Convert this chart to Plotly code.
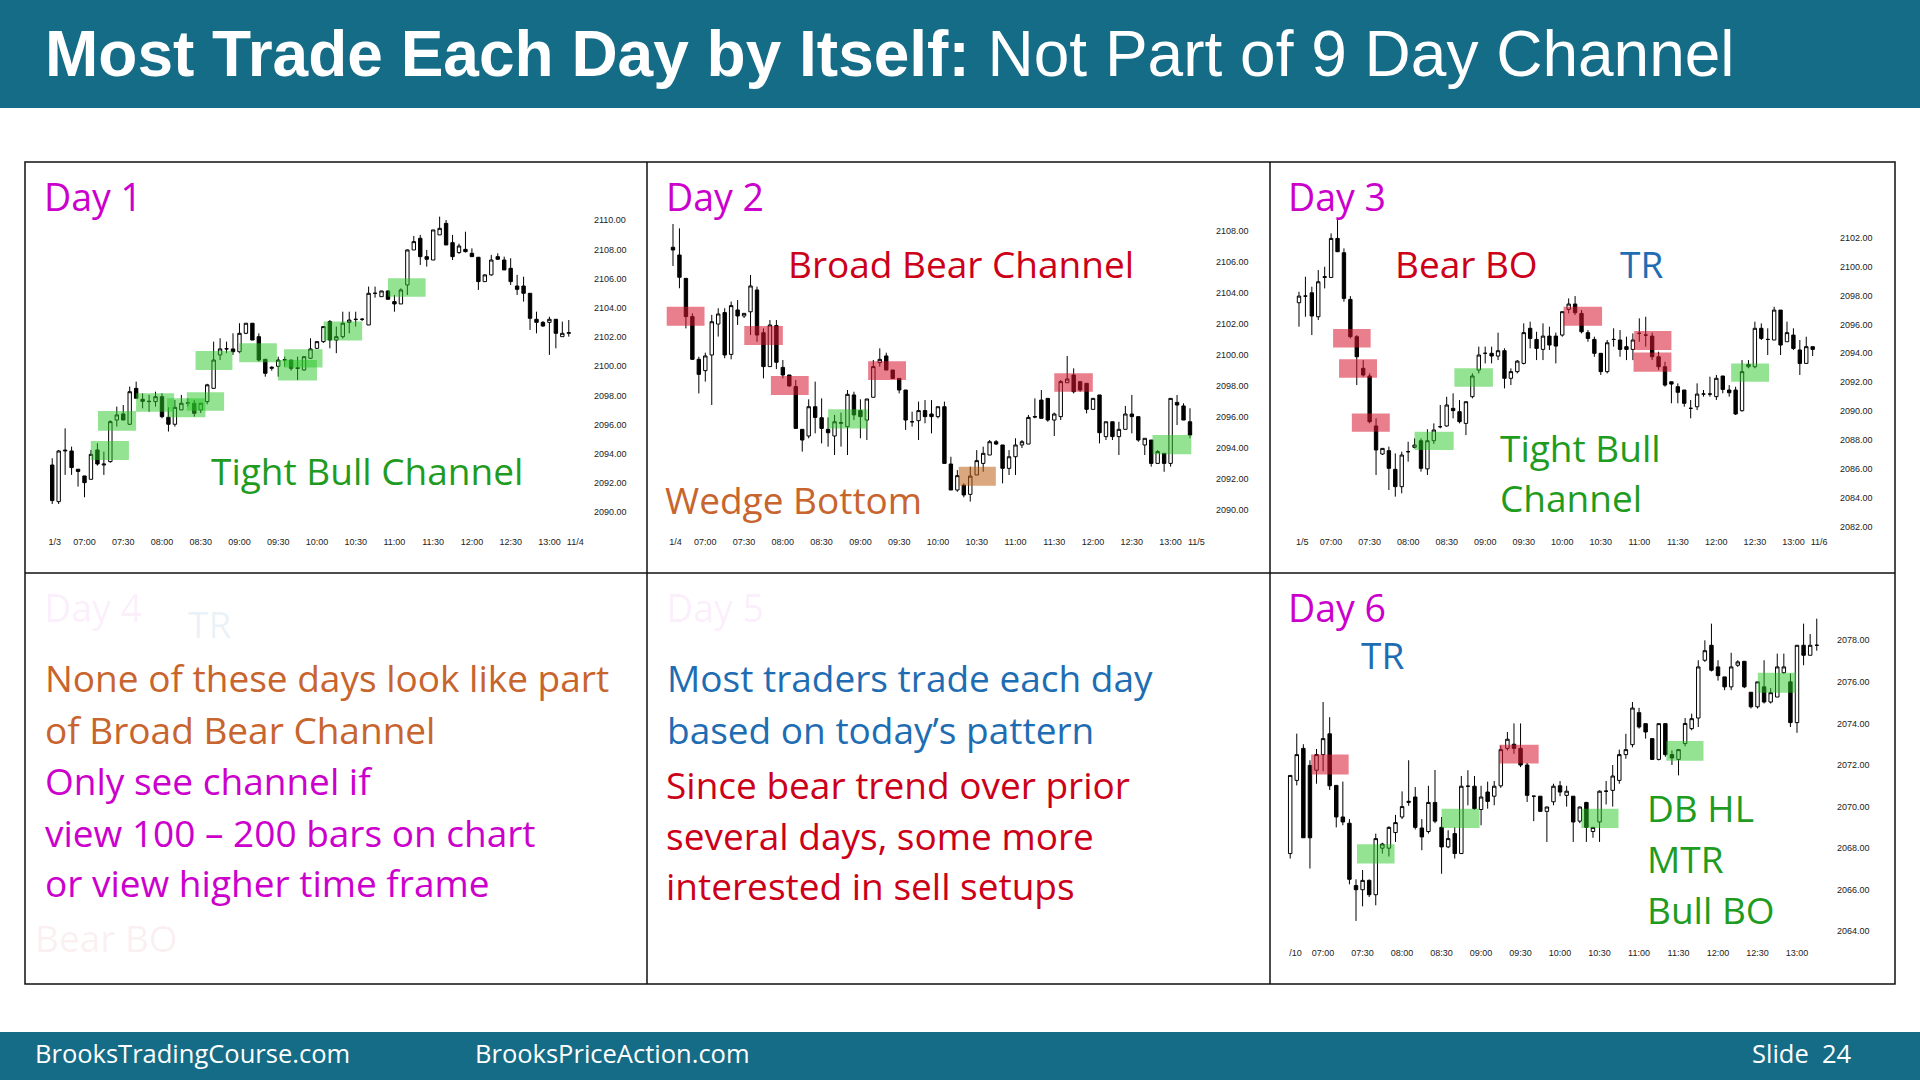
import plotly.graph_objects as go

W, H = 1920, 1080

# ---------------- data ----------------
# 5-minute bars, index 0 = 07:00 bar, -5 = 06:35 ... 75 = 13:15
bar_index = list(range(-5, 76))

time_tick_bars = [0, 6, 12, 18, 24, 30, 36, 42, 48, 54, 60, 66, 72]
time_tick_labels = ["07:00", "07:30", "08:00", "08:30", "09:00", "09:30", "10:00",
                    "10:30", "11:00", "11:30", "12:00", "12:30", "13:00"]

# ---- Day 1 ----
day1_open = [2093.24, 2090.73, 2094.20, 2094.20, 2092.95, 2092.49, 2092.26, 2094.27, 2093.24, 2093.47,
             2096.32, 2096.74, 2096.03, 2098.49, 2097.74, 2097.58, 2097.58, 2097.92, 2096.51, 2096.03,
             2097.01, 2097.47, 2097.47, 2097.01, 2097.58, 2098.49, 2100.78, 2101.19, 2101.19, 2101.00,
             2102.26, 2102.95, 2102.03, 2100.48, 2099.86, 2100.00, 2100.43, 2100.43, 2099.90, 2099.75,
             2100.55, 2101.23, 2101.69, 2103.06, 2101.80, 2102.03, 2103.01, 2103.20, 2103.22, 2102.83,
             2105.00, 2104.77, 2105.16, 2104.43, 2104.27, 2105.57, 2107.97, 2108.77, 2107.51, 2107.28,
             2109.00, 2109.79, 2108.47, 2107.79, 2108.01, 2107.74, 2107.47, 2105.80, 2106.26, 2107.51,
             2107.28, 2106.71, 2105.50, 2105.50, 2105.00, 2103.22, 2103.01, 2103.01, 2103.22, 2102.03, 2102.26]
day1_high = [2093.70, 2094.27, 2095.75, 2094.50, 2092.95, 2092.50, 2094.27, 2094.73, 2094.16, 2096.30,
             2097.24, 2097.35, 2098.61, 2098.95, 2098.15, 2098.04, 2098.26, 2098.15, 2097.20, 2097.69,
             2098.04, 2097.81, 2097.69, 2097.50, 2098.80, 2101.69, 2101.92, 2101.69, 2102.26, 2102.95,
             2102.95, 2102.95, 2102.26, 2100.48, 2100.00, 2100.66, 2100.66, 2100.43, 2100.66, 2100.66,
             2101.92, 2101.69, 2102.72, 2103.17, 2102.72, 2103.74, 2103.74, 2103.74, 2103.30, 2105.46,
             2105.46, 2105.16, 2105.20, 2104.89, 2105.34, 2108.00, 2108.93, 2109.00, 2107.97, 2109.34,
             2110.25, 2110.02, 2109.00, 2108.40, 2109.22, 2108.08, 2107.47, 2106.30, 2107.63, 2107.74,
             2107.51, 2107.40, 2106.26, 2106.14, 2105.00, 2103.74, 2103.10, 2103.40, 2103.22, 2103.06, 2103.17]
day1_low = [2090.57, 2090.57, 2092.56, 2092.56, 2091.76, 2091.03, 2092.26, 2093.20, 2092.56, 2093.40,
            2095.87, 2096.32, 2095.98, 2097.81, 2097.12, 2096.89, 2097.24, 2096.44, 2095.53, 2095.87,
            2097.01, 2097.24, 2096.55, 2096.80, 2097.40, 2098.49, 2100.43, 2100.90, 2100.78, 2100.89,
            2102.20, 2101.80, 2100.32, 2099.29, 2099.70, 2099.29, 2099.98, 2099.70, 2099.06, 2099.70,
            2100.50, 2101.20, 2101.60, 2101.23, 2100.90, 2101.90, 2102.26, 2102.72, 2103.10, 2102.83,
            2104.70, 2104.77, 2104.59, 2103.74, 2104.27, 2104.89, 2107.97, 2106.94, 2106.83, 2107.28,
            2109.00, 2108.31, 2107.28, 2107.70, 2107.80, 2107.51, 2105.23, 2105.80, 2106.20, 2107.28,
            2106.60, 2105.57, 2104.89, 2104.43, 2102.49, 2102.26, 2102.70, 2100.78, 2101.23, 2102.03, 2102.03]
day1_close = [2090.80, 2094.20, 2094.25, 2093.06, 2092.80, 2092.03, 2093.97, 2093.31, 2093.30, 2096.21,
              2096.67, 2096.32, 2098.26, 2097.81, 2097.60, 2097.60, 2097.92, 2096.55, 2096.03, 2097.19,
              2097.47, 2097.50, 2096.78, 2097.47, 2098.73, 2100.43, 2101.19, 2101.20, 2101.00, 2102.26,
              2102.95, 2101.80, 2100.43, 2099.52, 2099.93, 2100.43, 2100.45, 2099.86, 2099.86, 2100.66,
              2101.19, 2101.69, 2102.72, 2101.80, 2102.03, 2102.95, 2103.17, 2103.22, 2103.22, 2105.00,
              2105.00, 2105.16, 2104.59, 2104.27, 2105.23, 2107.97, 2108.54, 2107.51, 2107.33, 2109.34,
              2109.45, 2108.31, 2107.51, 2108.24, 2107.85, 2107.51, 2105.80, 2106.26, 2107.28, 2107.33,
              2106.60, 2105.80, 2105.27, 2105.00, 2103.29, 2103.01, 2102.76, 2103.22, 2102.26, 2102.26, 2102.30]
day1_price_ticks = [2090, 2092, 2094, 2096, 2098, 2100, 2102, 2104, 2106, 2108, 2110]
day1_date_ticks = [-4.6, 76.0]
day1_date_labels = ["1/3", "11/4"]
# signal-bar boxes: (first bar, last bar, low price, high price, kind)
day1_boxes = [(0.98, 6.88, 2093.58, 2094.89, "bull"), (2.09, 7.99, 2095.59, 2096.94, "bull"),
              (7.99, 13.88, 2096.89, 2098.15, "bull"), (12.78, 18.73, 2096.51, 2097.81, "bull"),
              (15.85, 21.62, 2096.96, 2098.22, "bull"), (17.2, 22.91, 2099.75, 2101.05, "bull"),
              (23.96, 29.79, 2100.27, 2101.58, "bull"), (29.98, 36.0, 2099.02, 2100.43, "bull"),
              (30.9, 36.86, 2099.91, 2101.16, "bull"), (37.04, 43.0, 2101.76, 2103.06, "bull"),
              (46.99, 52.83, 2104.77, 2106.03, "bull")]

# ---- Day 2 ----
day2_open = [2106.97, 2106.47, 2104.96, 2102.49, 2099.73, 2099.00, 2100.01, 2102.01, 2102.75, 2100.05,
             2102.92, 2102.53, 2102.80, 2104.21, 2101.45, 2099.26, 2101.91, 2099.21, 2098.72, 2097.97,
             2095.21, 2094.78, 2096.67, 2095.96, 2095.21, 2094.78, 2095.60, 2095.38, 2097.43, 2096.42,
             2095.81, 2097.28, 2099.52, 2099.95, 2099.04, 2098.50, 2097.75, 2095.70, 2095.77, 2096.42,
             2096.20, 2096.03, 2096.67, 2092.97, 2091.29, 2091.61, 2091.01, 2092.26, 2093.01, 2093.55,
             2094.41, 2094.20, 2092.69, 2093.44, 2094.20, 2094.26, 2096.00, 2097.10, 2097.21, 2095.81,
             2096.03, 2098.22, 2098.72, 2098.29, 2098.18, 2096.50, 2097.43, 2094.74, 2095.70, 2094.74,
             2095.21, 2096.20, 2096.03, 2094.20, 2094.52, 2093.01, 2093.66, 2093.01, 2096.95, 2096.72, 2095.70]
day2_high = [2108.47, 2108.19, 2104.96, 2102.70, 2099.90, 2100.16, 2102.60, 2103.03, 2103.03, 2103.46,
             2103.56, 2102.70, 2105.18, 2104.43, 2101.73, 2102.27, 2102.27, 2099.69, 2098.72, 2098.40,
             2095.21, 2097.15, 2098.29, 2097.21, 2095.98, 2096.14, 2096.29, 2097.75, 2097.64, 2097.15,
             2097.17, 2099.69, 2100.44, 2100.16, 2099.04, 2098.50, 2097.75, 2096.35, 2097.00, 2097.10,
             2097.10, 2096.67, 2097.00, 2093.44, 2092.58, 2091.72, 2092.80, 2093.87, 2094.09, 2094.52,
             2094.52, 2094.20, 2093.87, 2094.63, 2094.52, 2096.14, 2097.21, 2097.75, 2097.21, 2096.29,
             2098.40, 2099.95, 2099.15, 2098.29, 2098.18, 2097.21, 2097.43, 2095.70, 2095.70, 2095.70,
             2096.72, 2097.43, 2096.03, 2094.63, 2094.52, 2093.87, 2093.66, 2097.21, 2097.43, 2096.89, 2096.57]
day2_low = [2105.76, 2104.32, 2101.73, 2099.69, 2097.53, 2098.29, 2096.78, 2101.20, 2099.80, 2099.73,
            2101.95, 2102.40, 2101.30, 2100.87, 2098.50, 2099.26, 2099.10, 2098.50, 2097.97, 2095.27,
            2093.77, 2094.63, 2094.95, 2094.30, 2094.09, 2093.55, 2094.09, 2093.55, 2095.81, 2094.63,
            2094.52, 2097.28, 2099.26, 2099.04, 2098.50, 2097.53, 2095.17, 2095.38, 2094.52, 2095.60,
            2094.95, 2095.92, 2093.01, 2091.29, 2091.18, 2090.82, 2090.54, 2092.26, 2092.47, 2093.55,
            2094.20, 2091.72, 2092.26, 2092.26, 2094.00, 2094.26, 2095.92, 2095.92, 2095.70, 2094.78,
            2095.81, 2098.22, 2097.53, 2097.64, 2096.24, 2096.50, 2094.30, 2094.52, 2094.52, 2093.55,
            2095.21, 2094.95, 2094.41, 2093.55, 2092.80, 2093.01, 2092.47, 2092.80, 2095.49, 2095.81, 2094.63]
day2_close = [2106.79, 2105.03, 2102.49, 2099.73, 2098.76, 2099.95, 2102.16, 2102.66, 2100.01, 2103.20,
              2102.53, 2102.70, 2104.47, 2101.30, 2099.26, 2101.95, 2099.54, 2098.72, 2098.01, 2095.27,
              2094.52, 2096.67, 2095.98, 2095.27, 2094.99, 2095.70, 2095.64, 2097.47, 2096.14, 2096.03,
              2097.17, 2099.26, 2099.73, 2099.04, 2098.50, 2097.75, 2095.81, 2095.70, 2096.42, 2096.03,
              2096.03, 2096.67, 2093.01, 2091.29, 2092.22, 2090.97, 2092.19, 2093.19, 2093.66, 2094.41,
              2094.26, 2092.69, 2093.44, 2094.20, 2094.41, 2095.98, 2096.03, 2095.92, 2095.81, 2096.20,
              2098.29, 2098.46, 2097.64, 2097.75, 2096.50, 2097.21, 2094.99, 2095.70, 2094.74, 2095.21,
              2096.20, 2096.03, 2094.52, 2094.63, 2093.01, 2093.77, 2093.01, 2097.21, 2096.78, 2095.81, 2094.84]
day2_price_ticks = [2090, 2092, 2094, 2096, 2098, 2100, 2102, 2104, 2106, 2108]
day2_date_ticks = [-4.6, 76.0]
day2_date_labels = ["1/4", "11/5"]
day2_boxes = [(-5.97, -0.12, 2101.9, 2103.13, "bear"), (6.03, 12.0, 2100.66, 2101.88, "bear"),
              (10.15, 16.0, 2097.43, 2098.65, "bear"), (19.0, 25.1, 2095.27, 2096.5, "bull"),
              (25.2, 31.06, 2098.4, 2099.6, "bear"), (39.2, 44.96, 2091.57, 2092.8, "wedge"),
              (54.0, 59.96, 2097.64, 2098.83, "bear"), (69.2, 75.2, 2093.6, 2094.84, "bull")]

# ---- Day 3 ----
day3_open = [2097.50, 2097.96, 2098.19, 2096.53, 2099.25, 2099.25, 2101.95, 2100.96, 2097.73, 2095.15,
             2092.96, 2092.43, 2088.97, 2087.03, 2087.26, 2085.97, 2084.77, 2087.19, 2087.49, 2087.95,
             2086.00, 2087.95, 2088.92, 2088.97, 2090.19, 2089.96, 2089.15, 2091.00, 2092.84, 2094.00,
             2094.00, 2093.81, 2094.18, 2092.27, 2092.73, 2093.30, 2095.73, 2094.96, 2094.27, 2095.19,
             2095.19, 2095.26, 2097.04, 2097.41, 2096.76, 2095.43, 2094.96, 2094.00, 2092.73, 2094.96,
             2094.92, 2094.46, 2094.27, 2095.38, 2095.26, 2095.19, 2093.76, 2093.07, 2092.03, 2091.69,
             2091.46, 2090.19, 2090.30, 2091.18, 2091.18, 2091.00, 2092.43, 2091.46, 2091.46, 2090.03,
             2093.07, 2093.07, 2095.73, 2094.96, 2094.92, 2096.99, 2094.80, 2095.26, 2094.23, 2093.30, 2094.46]
day3_high = [2098.26, 2099.30, 2098.61, 2099.76, 2099.99, 2102.30, 2103.22, 2101.26, 2097.96, 2095.26,
             2093.53, 2092.61, 2089.50, 2087.42, 2087.54, 2087.07, 2087.19, 2087.88, 2088.11, 2088.11,
             2088.74, 2089.15, 2090.42, 2090.99, 2091.23, 2090.77, 2090.65, 2092.61, 2094.46, 2094.46,
             2094.46, 2095.43, 2094.34, 2092.96, 2093.53, 2096.07, 2096.19, 2095.49, 2096.07, 2095.84,
             2095.43, 2096.88, 2097.80, 2097.96, 2096.99, 2095.61, 2095.15, 2094.00, 2094.92, 2095.73,
             2095.61, 2095.15, 2095.38, 2096.42, 2096.53, 2095.43, 2094.11, 2093.41, 2092.03, 2091.92,
             2091.46, 2090.77, 2091.92, 2091.46, 2092.38, 2092.50, 2092.43, 2091.80, 2091.69, 2093.53,
             2093.53, 2096.19, 2096.07, 2095.73, 2097.22, 2096.99, 2096.19, 2095.73, 2094.92, 2095.15, 2094.46]
day3_low = [2095.84, 2096.53, 2095.26, 2096.30, 2098.49, 2099.25, 2101.03, 2097.57, 2095.03, 2091.80,
            2092.38, 2089.15, 2085.58, 2086.96, 2084.54, 2084.08, 2084.31, 2086.50, 2087.42, 2085.81,
            2085.58, 2087.73, 2088.81, 2088.92, 2089.50, 2089.15, 2088.34, 2090.88, 2092.61, 2093.30,
            2093.30, 2093.53, 2091.57, 2091.80, 2092.61, 2093.23, 2094.34, 2093.53, 2093.53, 2094.23,
            2093.30, 2095.15, 2096.76, 2096.65, 2095.38, 2094.80, 2093.76, 2092.50, 2092.61, 2094.46,
            2093.76, 2093.53, 2093.53, 2094.80, 2094.46, 2093.53, 2092.84, 2091.69, 2090.54, 2090.54,
            2090.30, 2089.50, 2090.07, 2091.00, 2091.00, 2090.77, 2091.23, 2091.00, 2089.73, 2089.96,
            2092.96, 2092.96, 2094.92, 2093.88, 2094.92, 2093.88, 2094.80, 2094.23, 2092.50, 2093.30, 2093.81]
day3_close = [2097.96, 2097.96, 2096.58, 2098.95, 2099.30, 2101.95, 2101.03, 2097.80, 2095.15, 2093.76,
              2092.50, 2089.27, 2087.31, 2087.42, 2086.04, 2084.77, 2086.96, 2087.19, 2087.65, 2086.04,
              2087.95, 2088.69, 2088.92, 2090.42, 2090.03, 2089.27, 2090.65, 2092.43, 2093.88, 2094.00,
              2093.81, 2094.18, 2092.27, 2092.73, 2093.46, 2095.43, 2095.03, 2094.34, 2095.19, 2094.57,
              2094.50, 2096.88, 2097.41, 2096.81, 2095.49, 2095.03, 2094.00, 2092.73, 2094.73, 2094.96,
              2094.27, 2094.27, 2094.92, 2095.38, 2095.26, 2093.76, 2093.07, 2091.80, 2091.87, 2091.30,
              2090.54, 2090.19, 2091.18, 2091.18, 2091.18, 2092.27, 2091.50, 2091.27, 2089.80, 2092.73,
              2093.23, 2095.73, 2095.03, 2094.96, 2096.99, 2094.57, 2095.43, 2094.34, 2093.30, 2094.46, 2094.27]
day3_price_ticks = [2082, 2084, 2086, 2088, 2090, 2092, 2094, 2096, 2098, 2100, 2102]
day3_date_ticks = [-4.5, 76.0]
day3_date_labels = ["1/5", "11/6"]
day3_boxes = [(0.31, 6.16, 2094.41, 2095.68, "bear"), (1.24, 7.15, 2092.31, 2093.58, "bear"),
              (3.23, 9.14, 2088.57, 2089.84, "bear"), (13.0, 19.09, 2087.31, 2088.57, "bull"),
              (19.2, 25.2, 2091.69, 2092.96, "bull"), (36.2, 42.2, 2095.91, 2097.22, "bear"),
              (47.2, 53.0, 2094.23, 2095.54, "bear"), (47.1, 53.0, 2092.73, 2094.06, "bear"),
              (62.3, 68.2, 2092.03, 2093.3, "bull")]

# ---- Day 6 ----
day6_open = [2067.74, 2071.26, 2072.80, 2071.98, 2071.75, 2072.50, 2073.50, 2071.02, 2069.50, 2069.20,
             2066.20, 2066.00, 2066.45, 2065.76, 2068.00, 2068.00, 2068.75, 2069.50, 2070.20, 2070.46,
             2068.97, 2068.80, 2070.20, 2069.00, 2068.06, 2068.70, 2067.74, 2070.98, 2070.98, 2069.86,
             2070.70, 2070.50, 2071.00, 2072.80, 2073.00, 2072.80, 2072.00, 2070.50, 2070.50, 2069.77,
             2070.23, 2071.00, 2070.54, 2070.50, 2069.30, 2070.20, 2068.80, 2069.26, 2070.74, 2070.78,
             2071.26, 2072.50, 2072.98, 2074.52, 2073.99, 2073.27, 2072.27, 2073.99, 2072.50, 2072.27,
             2073.03, 2073.75, 2074.26, 2077.04, 2077.76, 2076.72, 2076.24, 2075.76, 2076.80, 2076.99,
             2075.50, 2074.80, 2075.76, 2075.03, 2075.27, 2076.44, 2076.00, 2074.04, 2077.76, 2077.28, 2077.76]
day6_high = [2071.50, 2073.51, 2073.00, 2072.23, 2072.77, 2075.03, 2074.30, 2071.02, 2071.20, 2069.40,
             2066.50, 2066.95, 2066.50, 2068.70, 2068.26, 2069.05, 2069.60, 2070.73, 2072.23, 2070.94,
             2069.40, 2071.00, 2071.76, 2069.50, 2068.86, 2069.00, 2071.47, 2071.75, 2071.47, 2071.00,
             2071.20, 2071.23, 2072.94, 2073.59, 2074.00, 2074.00, 2072.10, 2070.50, 2070.50, 2070.00,
             2071.10, 2071.23, 2071.00, 2070.50, 2070.00, 2070.23, 2069.00, 2070.78, 2071.23, 2072.00,
             2072.74, 2073.50, 2075.03, 2074.75, 2073.99, 2073.27, 2073.99, 2073.99, 2072.70, 2072.77,
             2074.26, 2074.47, 2077.04, 2078.00, 2078.80, 2077.04, 2076.24, 2077.40, 2077.04, 2076.99,
             2075.50, 2076.00, 2077.04, 2075.70, 2077.36, 2077.36, 2076.40, 2077.76, 2078.80, 2078.30, 2079.04]
day6_low = [2067.50, 2071.02, 2068.50, 2067.02, 2071.10, 2071.70, 2070.80, 2069.00, 2069.10, 2066.26,
            2064.50, 2065.20, 2065.65, 2065.25, 2067.74, 2067.60, 2068.30, 2069.40, 2070.04, 2068.90,
            2067.90, 2068.70, 2069.20, 2066.77, 2068.00, 2067.50, 2067.74, 2070.06, 2069.85, 2069.10,
            2069.90, 2070.06, 2070.90, 2072.70, 2072.54, 2071.90, 2070.22, 2069.30, 2069.75, 2068.30,
            2070.06, 2070.50, 2070.00, 2068.30, 2069.20, 2068.30, 2068.50, 2068.30, 2070.10, 2070.00,
            2071.10, 2072.30, 2072.85, 2073.75, 2073.27, 2072.27, 2072.22, 2072.40, 2072.00, 2071.50,
            2072.90, 2073.67, 2073.83, 2076.96, 2076.50, 2076.06, 2075.60, 2075.60, 2076.72, 2075.70,
            2074.72, 2074.72, 2074.96, 2074.96, 2075.27, 2076.40, 2073.83, 2073.55, 2076.80, 2077.28, 2077.50]
day6_close = [2071.50, 2072.50, 2068.50, 2068.50, 2072.50, 2073.27, 2071.00, 2069.50, 2069.26, 2066.50,
              2066.00, 2066.45, 2065.76, 2068.46, 2068.20, 2069.00, 2069.23, 2070.00, 2070.25, 2069.00,
              2068.54, 2070.20, 2069.30, 2068.06, 2068.46, 2067.74, 2070.98, 2070.98, 2069.90, 2070.46,
              2070.25, 2070.98, 2072.74, 2073.24, 2072.80, 2072.00, 2070.54, 2070.50, 2069.77, 2069.98,
              2070.98, 2070.70, 2070.74, 2069.26, 2069.98, 2069.00, 2069.00, 2070.74, 2070.74, 2071.47,
              2072.50, 2072.74, 2074.74, 2073.83, 2073.59, 2072.27, 2073.99, 2072.50, 2072.34, 2072.74,
              2074.00, 2074.23, 2076.72, 2077.50, 2076.56, 2076.30, 2075.76, 2076.72, 2076.96, 2075.76,
              2074.80, 2076.00, 2075.03, 2075.48, 2076.72, 2076.72, 2074.04, 2077.76, 2077.28, 2077.76, 2077.76]
day6_price_ticks = [2064, 2066, 2068, 2070, 2072, 2074, 2076, 2078]
day6_date_ticks = [-4.2]
day6_date_labels = ["/10"]
day6_boxes = [(-1.82, 3.88, 2071.54, 2072.5, "bear"), (5.15, 10.86, 2067.26, 2068.19, "bull"),
              (18.0, 23.77, 2068.97, 2069.9, "bull"), (26.8, 32.75, 2072.07, 2072.98, "bear"),
              (39.24, 44.88, 2068.97, 2069.9, "bull"), (52.15, 57.79, 2072.2, 2073.16, "bull"),
              (66.04, 71.86, 2075.48, 2076.44, "bull")]

# ---------------- style ----------------
TEAL = "#156c86"
MAGENTA = "#cc00cc"
GREEN = "#1f9c1f"
RED = "#cc0018"
BLUE = "#1e6db3"
BROWN = "#c8642d"
BOX_FILL = {"bull": "rgb(40,200,40)", "bear": "rgb(215,20,45)", "wedge": "rgb(190,95,20)"}
BOX_OPACITY = {"bull": 0.5, "bear": 0.55, "wedge": 0.55}
TEXT_FONT = "Open Sans"
AXIS_FONT = dict(family="Liberation Sans, Arial", size=9, color="#222222")

fig = go.Figure()
layout = dict(width=W, height=H, margin=dict(l=0, r=0, t=0, b=0),
              paper_bgcolor="white", plot_bgcolor="rgba(0,0,0,0)",
              showlegend=False, boxgap=0.25)
shapes = []
annotations = []


def fx(px):
    return px / W


def fy(px):
    return 1 - px / H


def add_chart(n, o, h, l, c, dom, xcal, ycal, price_ticks, date_ticks, date_labels, boxes):
    # dom: (left px, right px, top px, bottom px); xcal: (px of bar 0, px per bar)
    # ycal: ((price1, px1), (price2, px2))
    left, right, top, bottom = dom
    a, b = xcal
    (p1, q1), (p2, q2) = ycal
    s = (q2 - q1) / (p2 - p1)
    xr = [(left - a) / b, (right - a) / b]
    yr = [p1 + (bottom - q1) / s, p1 + (top - q1) / s]
    sx = "" if n == 1 else str(n)
    fig.add_trace(go.Candlestick(
        x=bar_index, open=o, high=h, low=l, close=c,
        xaxis="x" + sx, yaxis="y" + sx, whiskerwidth=0,
        increasing=dict(line=dict(color="black", width=1), fillcolor="white"),
        decreasing=dict(line=dict(color="black", width=1), fillcolor="black"),
        hoverinfo="skip", showlegend=False))
    tv = [date_ticks[0]] + time_tick_bars + list(date_ticks[1:])
    tt = [date_labels[0]] + time_tick_labels + list(date_labels[1:])
    layout["xaxis" + sx] = dict(domain=[fx(left), fx(right)], range=xr, anchor="y" + sx,
                                showgrid=False, zeroline=False, showline=False, ticks="",
                                tickmode="array", tickvals=tv, ticktext=tt, tickfont=AXIS_FONT,
                                rangeslider=dict(visible=False), fixedrange=True)
    layout["yaxis" + sx] = dict(domain=[fy(bottom), fy(top)], range=yr, anchor="x" + sx,
                                side="right", showgrid=False, zeroline=False, showline=False,
                                ticks="", tickmode="array", tickvals=price_ticks,
                                ticktext=[f"{v:.2f}" for v in price_ticks], tickfont=AXIS_FONT,
                                fixedrange=True)
    for (x0, x1, lo, hi, kind) in boxes:
        shapes.append(dict(type="rect", xref="x" + sx, yref="y" + sx, x0=x0, x1=x1, y0=lo, y1=hi,
                           fillcolor=BOX_FILL[kind], opacity=BOX_OPACITY[kind],
                           line=dict(width=0), layer="above"))


add_chart(1, day1_open, day1_high, day1_low, day1_close, (44, 593, 170, 535),
          (84.5, 6.457), ((2110, 220.3), (2090, 512.3)), day1_price_ticks,
          day1_date_ticks, day1_date_labels, day1_boxes)
add_chart(2, day2_open, day2_high, day2_low, day2_close, (664, 1215, 170, 535),
          (705.3, 6.4625), ((2108, 231.3), (2090, 510.0)), day2_price_ticks,
          day2_date_ticks, day2_date_labels, day2_boxes)
add_chart(3, day3_open, day3_high, day3_low, day3_close, (1286, 1839, 170, 535),
          (1331.1, 6.421), ((2102, 237.7), (2082, 526.7)), day3_price_ticks,
          day3_date_ticks, day3_date_labels, day3_boxes)
add_chart(4, day6_open, day6_high, day6_low, day6_close, (1284, 1836, 585, 946),
          (1323.1, 6.582), ((2078, 640.3), (2064, 931.3)), day6_price_ticks,
          day6_date_ticks, day6_date_labels, day6_boxes)

# header / footer bars
shapes.append(dict(type="rect", xref="paper", yref="paper", x0=0, x1=1, y0=fy(108), y1=1,
                   fillcolor=TEAL, line=dict(width=0), layer="below"))
shapes.append(dict(type="rect", xref="paper", yref="paper", x0=0, x1=1, y0=0, y1=fy(1032),
                   fillcolor=TEAL, line=dict(width=0), layer="below"))
# grid of panels
GL = dict(color="#111111", width=1.5)
shapes.append(dict(type="rect", xref="paper", yref="paper", x0=fx(25), x1=fx(1895),
                   y0=fy(984), y1=fy(162), line=GL, fillcolor="rgba(0,0,0,0)", layer="above"))
for xv in (647, 1270):
    shapes.append(dict(type="line", xref="paper", yref="paper", x0=fx(xv), x1=fx(xv),
                       y0=fy(984), y1=fy(162), line=GL, layer="above"))
shapes.append(dict(type="line", xref="paper", yref="paper", x0=fx(25), x1=fx(1895),
                   y0=fy(573), y1=fy(573), line=GL, layer="above"))


def text(x_px, baseline_px, s, color, size=37, family=TEXT_FONT, k=0.388):
    annotations.append(dict(x=fx(x_px), y=fy(baseline_px - k * size), xref="paper", yref="paper",
                            xanchor="left", yanchor="middle", text=s, showarrow=False,
                            font=dict(family=family, size=size, color=color)))


# title
text(43, 76, "<b>Most Trade Each Day by Itself:</b> Not Part of 9 Day Channel", "white",
     size=64, family="Liberation Sans, Arial", k=0.3465)
# footer
text(33, 1062.7, "BrooksTradingCourse.com", "white", size=25.5)
text(473, 1062.7, "BrooksPriceAction.com", "white", size=25.5)
text(1750, 1062.7, "Slide  24", "white", size=25.5)

# faint background labels of the faded panels
text(42, 622, "Day 4", "rgba(204,0,204,0.08)", size=37.5)
text(186, 638, "TR", "rgba(31,111,176,0.10)")
text(33, 952, "Bear BO", "rgba(200,16,46,0.08)")
text(664, 622, "Day 5", "rgba(204,0,204,0.08)", size=37.5)

# panel labels
text(42, 210.7, "Day 1", MAGENTA, size=37.5)
text(664, 210.7, "Day 2", MAGENTA, size=37.5)
text(1286, 210.7, "Day 3", MAGENTA, size=37.5)
text(1286, 622, "Day 6", MAGENTA, size=37.5)

text(209, 485, "Tight Bull Channel", GREEN)
text(786, 278.3, "Broad Bear Channel", RED)
text(663, 514, "Wedge Bottom", BROWN)
text(1393, 278.3, "Bear BO", RED)
text(1618, 278.3, "TR", BLUE)
text(1498, 461.7, "Tight Bull", GREEN)
text(1498, 511.7, "Channel", GREEN)
text(1359, 669.3, "TR", BLUE)
text(1645, 822, "DB HL", GREEN)
text(1645, 873, "MTR", GREEN)
text(1645, 923.7, "Bull BO", GREEN)

text(43, 692, "None of these days look like part", BROWN)
text(43, 743.7, "of Broad Bear Channel", BROWN)
text(43, 794.7, "Only see channel if", MAGENTA)
text(43, 847, "view 100 \u2013 200 bars on chart", MAGENTA)
text(43, 897, "or view higher time frame", MAGENTA)

text(665, 692, "Most traders trade each day", BLUE)
text(665, 743.7, "based on today\u2019s pattern", BLUE)
text(664, 798.7, "Since bear trend over prior", RED)
text(664, 850, "several days, some more", RED)
text(664, 900.3, "interested in sell setups", RED)

layout["shapes"] = shapes
layout["annotations"] = annotations
fig.update_layout(**layout)

fig.write_html("out.html", config={"displayModeBar": False},
               post_script="document.body.style.margin='0';document.body.style.overflow='hidden';")
